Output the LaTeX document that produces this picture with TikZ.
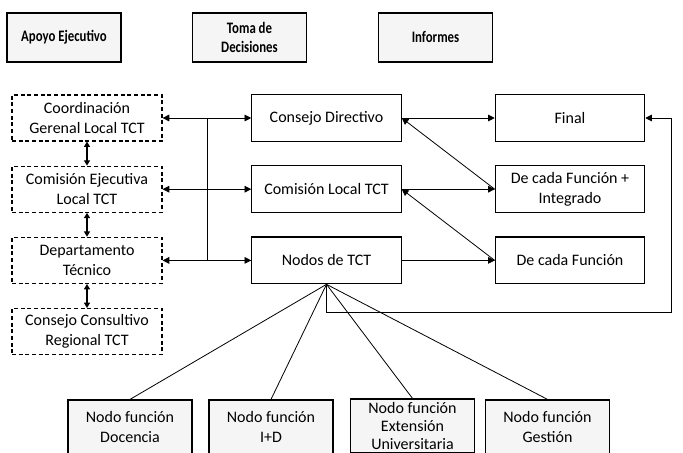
\documentclass[tikz,border=0pt]{standalone}
\usepackage{fontspec}
\setmainfont{Carlito}
\newfontface\headfont[FakeStretch=0.8]{Carlito Bold}
\usetikzlibrary{arrows, arrows.meta, calc}

\begin{document}
\begin{tikzpicture}[
            x = 0.75pt, y = -0.75pt, % pixel grid, y downwards
            > = {Triangle[width=5pt, length=5pt]}, % arrow head style
            node distance = 53.4pt, % distance between rows
            semithick, % line style
            font = \fontsize{12}{15}\selectfont
        ]

        \tikzstyle{head}=[
            draw = black,
            line width = 0.9pt,
            fill = gray!8,
            minimum width = 85.5pt,
            minimum height = 36.75pt,
            align = center,
            font = \fontsize{12}{14.5}\headfont
        ]
        \tikzstyle{support}=[
            draw = black,
            line width = 0.9pt,
            dash pattern = on 3pt off 2pt,
            minimum width = 112.5pt,
            minimum height = 34.5pt,
            align = center
        ]
        \tikzstyle{organ}=[
            draw = black,
            line width = 0.9pt,
            minimum width = 112pt,
            minimum height = 35pt,
            align = center
        ]
        \tikzstyle{func}=[
            draw = black,
            line width = 0.9pt,
            fill = gray!8,
            minimum width = 93pt,
            minimum height = 40.5pt,
            align = center
        ]

        \useasboundingbox (0,0) rectangle (683,453);

        % column titles
        \node[head] (hapoyo) at (64,37.5) {Apoyo Ejecutivo};
        \node[head] (htoma) at (249.5,37.5) {Toma de\\Decisiones};
        \node[head] (hinf) at (435.5,37.5) {Informes};

        % executive support
        \node[support] (cgl) at (87,118) {Coordinación\\Gerenal Local TCT};
        \node[support] (cel) [below of=cgl] {Comisión Ejecutiva\\Local TCT};
        \node[support] (dt) [below of=cel] {Departamento\\Técnico};
        \node[support] (ccr) [below of=dt] {Consejo Consultivo\\Regional TCT};

        % decision making
        \node[organ] (cd) at (326.5,118) {Consejo Directivo};
        \node[organ] (clt) [below of=cd] {Comisión Local TCT};
        \node[organ] (ntct) [below of=clt] {Nodos de TCT};

        % reports
        \node[organ] (fin) at (570,118) {Final};
        \node[organ] (dfi) [below of=fin] {De cada Función +\\Integrado};
        \node[organ] (df) [below of=dfi] {De cada Función};

        % function nodes
        \node[func] (ndoc) at (130,427) {Nodo función\\Docencia};
        \node[func] (nid) at (271,427) {Nodo función\\I+D};
        \node[func, inner ysep = 0pt, font = \fontsize{12}{13.5}\selectfont] (next) at (412.5,426) {Nodo función\\Extensión\\Universitaria};
        \node[func] (nges) at (547.5,427) {Nodo función\\Gestión};

        \path[{Triangle[width=4.5pt, length=4pt]}-{Triangle[width=4.5pt, length=4pt]}, line width = 1.1pt] (cgl) edge (cel);
        \path[{Triangle[width=4.5pt, length=4pt]}-{Triangle[width=4.5pt, length=4pt]}, line width = 1.1pt] (cel) edge (dt);
        \path[{Triangle[width=4.5pt, length=4pt]}-{Triangle[width=4.5pt, length=4pt]}, line width = 1.1pt] (dt) edge (ccr);

        \path[<->] (cgl.east) edge (cd.west);
        \path[<->] (cel.east) edge (clt.west);
        \path[<->] (dt.east) edge (ntct.west);
        \draw ($(cgl.east)!.5!(cd.west)$) -- ($(dt.east)!.5!(ntct.west)$);

        \path[->] (cd) edge (fin);
        \path[->] (clt) edge (dfi);
        \path[->] (ntct) edge (df);
        \path[->] (dfi.west) edge (cd.east);
        \path[->] (df.west) edge (clt.east);

        \coordinate (loop) at (671,312);
        \draw[->] (ntct.south) |- (loop) |- (fin.east);

        \draw (ntct.south) -- (ndoc.north);
        \draw (ntct.south) -- (nid.north);
        \draw (ntct.south) -- (next.north);
        \draw (ntct.south) -- (nges.north);

    \end{tikzpicture}
\end{document}
